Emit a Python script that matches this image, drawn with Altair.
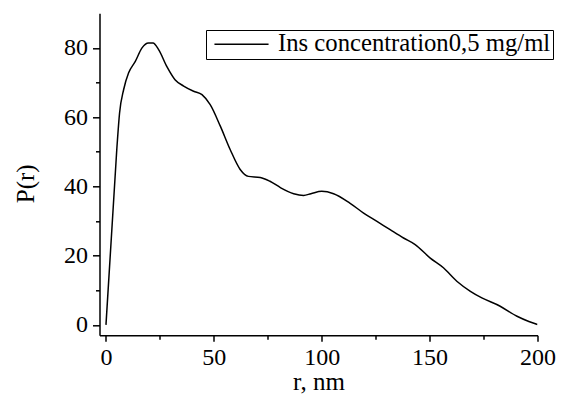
import altair as alt
import pandas as pd

r_vals = [0, 5, 6.3, 8.2, 10.5, 13.6, 16.7, 19.7, 21.8, 24.4, 28.3, 32, 36, 40.6, 44.5,
          48.3, 53, 57.6, 62.2, 66, 71.5, 76, 81, 87, 91.6, 95, 100, 105.5, 113, 119.4,
          125.6, 131.7, 137.9, 143.3, 150.3, 156.4, 162.6, 168.9, 174.2, 182.7, 190.5, 196, 200]
p_vals = [0, 50.6, 61.2, 68, 72.8, 76.1, 80, 81.4, 81.4, 79.5, 74.5, 70.8, 69, 67.5, 66.5,
          63.6, 57.4, 50.6, 44.9, 42.9, 42.6, 41.5, 39.6, 37.9, 37.4, 37.9, 38.6, 37.9, 35.2, 32.3,
          29.9, 27.5, 25.1, 23.2, 19.3, 16.5, 12.6, 9.7, 7.8, 5.4, 2.5, 1.0, 0.1]
series_name = "Ins concentration0,5 mg/ml"

x_major = [0, 50, 100, 150, 200]
x_minor = [25, 75, 125, 175]
y_major = [0, 20, 40, 60, 80]
y_minor = [10, 30, 50, 70]

df = pd.DataFrame({"r": r_vals, "P": p_vals, "series": series_name})

FONT = "'Liberation Serif', 'Times New Roman', Times, 'DejaVu Serif', serif"
x_scale = alt.Scale(domain=[-3, 200], nice=False, zero=False)
y_scale = alt.Scale(domain=[-3, 90], nice=False, zero=False)

main = alt.Chart(df).mark_line(
    interpolate="monotone", strokeWidth=1.5, clip=True
).encode(
    x=alt.X(
        "r:Q",
        scale=x_scale,
        axis=alt.Axis(
            orient="bottom",
            values=x_major,
            tickSize=6,
            labelFont=FONT,
            labelFontSize=24,
            labelPadding=4,
            title="r, nm",
            titleY=54,
            titleBaseline="alphabetic",
            grid=False,
            labelFlush=False,
            labelOverlap=False,
        ),
    ),
    y=alt.Y(
        "P:Q",
        scale=y_scale,
        axis=alt.Axis(
            orient="left",
            values=y_major,
            tickSize=7,
            labelFont=FONT,
            labelFontSize=24,
            labelPadding=5,
            title="P(r)",
            titleAngle=270,
            titleX=-66,
            titleY=170,
            titleAlign="center",
            titleBaseline="alphabetic",
            grid=False,
            labelFlush=False,
            labelOverlap=False,
        ),
    ),
    color=alt.Color(
        "series:N",
        scale=alt.Scale(range=["black"]),
        legend=alt.Legend(
            title=None,
            orient="none",
            legendX=106.5,
            legendY=16.7,
            strokeColor="black",
            padding=2,
            symbolType="M-0.6,0H4.9",
            symbolSize=387,
            symbolStrokeWidth=1.5,
            labelFont=FONT,
            labelFontSize=24.7,
            labelColor="black",
            labelOffset=45.3,
            labelLimit=0,
        ),
    ),
)

minor = alt.Chart(df).mark_line(opacity=0).encode(
    x=alt.X(
        "r:Q",
        scale=x_scale,
        axis=alt.Axis(
            orient="bottom", values=x_minor, tickSize=4, labels=False,
            domain=False, title=None, grid=False,
        ),
    ),
    y=alt.Y(
        "P:Q",
        scale=y_scale,
        axis=alt.Axis(
            orient="left", values=y_minor, tickSize=4, labels=False,
            domain=False, title=None, grid=False,
        ),
    ),
)

chart = alt.layer(main, minor).resolve_axis(
    x="independent", y="independent"
).properties(
    width=438,
    height=322,
    autosize=alt.AutoSizeParams(type="none"),
    padding={"left": 91.5, "top": 5.3, "right": 18.5, "bottom": 59.7},
).configure_view(
    stroke=None
).configure_axis(
    domainColor="black",
    domainWidth=1.5,
    tickColor="black",
    tickWidth=1.5,
    labelFont=FONT,
    labelFontSize=24,
    labelColor="black",
    titleFont=FONT,
    titleFontSize=25,
    titleFontWeight="normal",
    titleColor="black",
)

chart.save("out.html", embed_options={"renderer": "svg", "actions": False})
